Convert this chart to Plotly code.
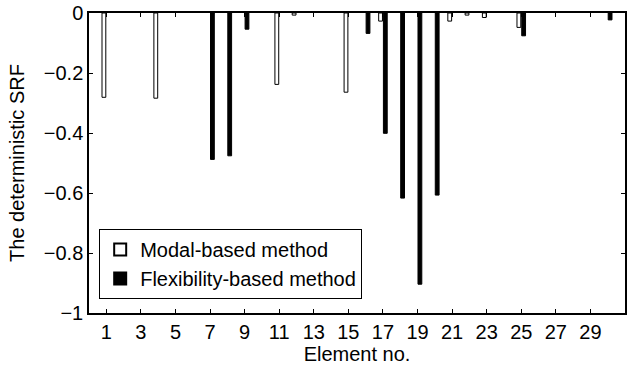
import plotly.graph_objects as go

elements = list(range(1, 31))
modal_based = [-0.281, 0, 0, -0.284, 0, 0, 0, 0, 0, 0,
               -0.238, -0.007, 0, 0, -0.264, 0, -0.027, 0, 0, 0,
               -0.027, -0.007, -0.015, 0, -0.048, 0, 0, 0, 0, 0]
flexibility_based = [0, 0, 0, 0, 0, 0, -0.488, -0.476, -0.054, 0,
                     0, 0, 0, 0, 0, -0.068, -0.401, -0.617, -0.904, -0.607,
                     0, 0, 0, 0, -0.076, 0, 0, 0, 0, -0.023]
x_ticks = list(range(1, 30, 2))
y_ticks = [0, -0.2, -0.4, -0.6, -0.8, -1]
y_tick_labels = ["0", "\u22120.2", "\u22120.4", "\u22120.6", "\u22120.8", "\u22121"]

FONT = "Liberation Sans, Arial, Helvetica, sans-serif"
FS = 20


def nonzero(vals):
    # zero-valued elements draw no bar at all
    return [v if v != 0 else None for v in vals]


fig = go.Figure()
fig.add_trace(go.Bar(x=elements, y=nonzero(modal_based), name="Modal-based method",
                     marker=dict(color="white", line=dict(color="black", width=1))))
fig.add_trace(go.Bar(x=elements, y=nonzero(flexibility_based), name="Flexibility-based method",
                     marker=dict(color="black", line=dict(color="black", width=1))))

axis_common = dict(showline=True, linecolor="black", linewidth=1.5, mirror="ticks",
                   ticks="inside", ticklen=4, tickcolor="black", tickwidth=1,
                   showgrid=False, zeroline=False, automargin=False,
                   tickfont=dict(size=FS, color="black", family=FONT))

fig.update_layout(
    width=627, height=374,
    margin=dict(l=89, r=2, t=13, b=61),
    paper_bgcolor="white", plot_bgcolor="white",
    barmode="group", bargap=0.45, bargroupgap=0.2,
    font=dict(family=FONT, size=FS, color="black"),
    xaxis=dict(range=[0, 31], tickmode="array", tickvals=x_ticks,
               ticktext=[str(v) for v in x_ticks],
               title=dict(text="Element no.", font=dict(size=FS), standoff=4),
               **axis_common),
    yaxis=dict(range=[-1, 0], tickmode="array", tickvals=y_ticks,
               ticktext=y_tick_labels,
               title=dict(text="The deterministic SRF", font=dict(size=FS), standoff=14),
               **axis_common),
    legend=dict(x=0.019, y=0.047, xanchor="left", yanchor="bottom",
                bordercolor="black", borderwidth=1, bgcolor="white",
                font=dict(size=FS, color="black", family=FONT),
                tracegroupgap=0, itemsizing="constant"),
    showlegend=True,
)

fig.write_html("out.html", config={"displayModeBar": False},
               post_script="document.body.style.margin='0';")
